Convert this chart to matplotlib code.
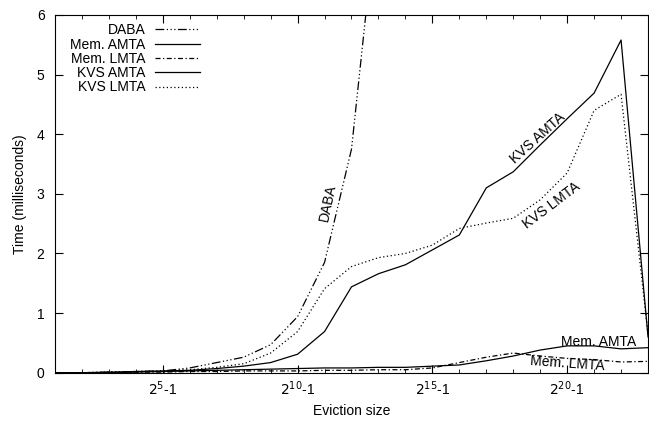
import matplotlib
matplotlib.use('Agg')
import matplotlib.pyplot as plt
from matplotlib.ticker import MultipleLocator

plt.rcParams['font.family'] = ['Liberation Sans', 'DejaVu Sans']

# Tamanho da evicção em expoentes (2^e - 1)
exps = list(range(1, 24))
daba_exps = list(range(1, 14))

daba = [0.0, 0.0, 0.01, 0.02, 0.03, 0.08, 0.17, 0.26, 0.47, 0.94, 1.85, 3.75, 8.0]
mem_amta = [0.0, 0.0, 0.0, 0.01, 0.02, 0.03, 0.04, 0.05, 0.06, 0.07, 0.08, 0.08, 0.09,
            0.09, 0.11, 0.13, 0.2, 0.28, 0.38, 0.45, 0.45, 0.4, 0.42]
mem_lmta = [0.0, 0.0, 0.0, 0.01, 0.01, 0.02, 0.02, 0.03, 0.03, 0.03, 0.04, 0.04, 0.05,
            0.05, 0.08, 0.17, 0.26, 0.33, 0.28, 0.24, 0.22, 0.18, 0.19]
kvs_amta = [0.0, 0.0, 0.01, 0.02, 0.03, 0.04, 0.07, 0.11, 0.17, 0.31, 0.69, 1.44, 1.66,
            1.81, 2.06, 2.31, 3.10, 3.37, 3.82, 4.26, 4.69, 5.58, 0.6]
kvs_lmta = [0.0, 0.0, 0.01, 0.02, 0.03, 0.05, 0.09, 0.15, 0.33, 0.69, 1.41, 1.78, 1.93,
            2.0, 2.14, 2.42, 2.51, 2.59, 2.9, 3.35, 4.4, 4.67, 0.65]

tick_exps = [5, 10, 15, 20]
tick_labels = ['$2^{%d}$-1' % e for e in tick_exps]

fig = plt.figure(figsize=(6.49, 4.22), dpi=100)
ax = fig.add_axes([0.0847, 0.1168, 0.9138, 0.8477])

lw = 0.9
ax.plot(daba_exps, daba, color='black', lw=lw, ls=(0, (7, 2, 1, 2, 1, 2, 1, 2)), label='DABA')
ax.plot(exps, mem_amta, color='black', lw=lw, ls='-', label='Mem. AMTA')
ax.plot(exps, mem_lmta, color='black', lw=lw, ls=(0, (4, 2, 1, 2)), label='Mem. LMTA')
ax.plot(exps, kvs_amta, color='black', lw=lw, ls='-', label='KVS AMTA')
ax.plot(exps, kvs_lmta, color='black', lw=lw, ls=(0, (1, 2)), label='KVS LMTA')

ax.set_xlim(1, 23)
ax.set_ylim(0, 6)
ax.set_xticks(tick_exps)
ax.set_xticklabels(tick_labels, fontsize=10)
ax.xaxis.set_minor_locator(MultipleLocator(1))
ax.yaxis.set_major_locator(MultipleLocator(1))
ax.tick_params(axis='both', which='both', direction='in', top=True, right=True, labelsize=10)
ax.tick_params(which='major', length=6)
ax.tick_params(which='minor', length=3)
ax.tick_params(axis='y', pad=7.5)
ax.tick_params(axis='x', pad=5)

ax.set_xlabel('Eviction size', fontsize=10, labelpad=4)
ax.set_ylabel('Time (milliseconds)', fontsize=10, labelpad=7)

# Rótulos junto às curvas
ax.text(11.13, 2.85, 'DABA', rotation=78, ha='center', va='center', fontsize=10)
ax.text(18.92, 3.94, 'KVS AMTA', rotation=42, ha='center', va='center', fontsize=10)
ax.text(19.44, 2.81, 'KVS LMTA', rotation=37, ha='center', va='center', fontsize=10)
ax.text(21.15, 0.51, 'Mem. AMTA', ha='center', va='center', fontsize=10)
ax.text(20.0, 0.15, 'Mem. LMTA', rotation=-4, ha='center', va='center', fontsize=10)

ax.legend(loc='upper left', bbox_to_anchor=(0.012, 1.0), frameon=False, markerfirst=False,
          fontsize=10, handlelength=3.2, labelspacing=0.02, borderaxespad=0.2,
          handletextpad=0.7)

fig.savefig('out.png', dpi=100)
